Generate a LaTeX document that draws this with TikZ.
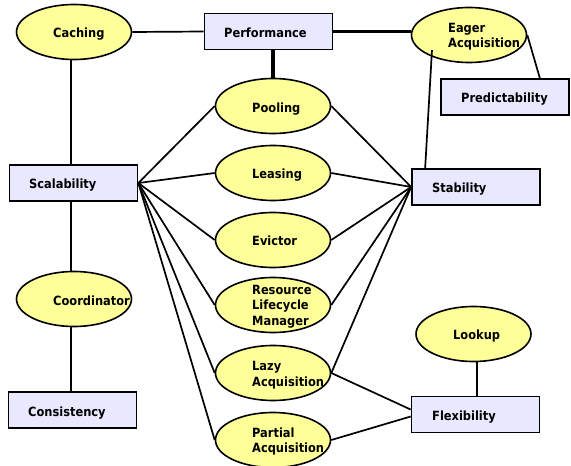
\documentclass[tikz,border=0pt]{standalone}
\usepackage{fontspec}
\setmainfont{DejaVu Sans Condensed}
\usetikzlibrary{shapes.geometric,calc}
\definecolor{bubble}{RGB}{255,255,153}
\definecolor{boxfill}{RGB}{232,232,255}
\begin{document}
\begin{tikzpicture}[x=1pt,y=-1pt,
  quality/.style={rectangle, draw=black, line width=1.7pt, fill=boxfill,
                  minimum width=128pt, minimum height=36pt, inner sep=0pt},
  pattern/.style={ellipse, draw=black, line width=1.6pt, fill=bubble,
                  minimum width=115pt, minimum height=55pt, inner sep=0pt},
  lbl/.style={anchor=base west, inner sep=0pt, align=left,
              font=\fontsize{12.7}{15.5}\selectfont\bfseries},
  link/.style={line width=1.7pt},
  strong/.style={line width=3.2pt}]
  % canvas
  \fill[white] (0,0) rectangle (571,466);
  \useasboundingbox (0,0) rectangle (571,466);

  % qualities
  \node[quality] (perf) at (268.5,31.5) {};
  \node[quality] (pred) at (505,97) {};
  \node[quality] (scal) at (73.5,183) {};
  \node[quality] (stab) at (476,187) {};
  \node[quality] (cons) at (72.5,410) {};
  \node[quality] (flex) at (475.5,414.5) {};

  % patterns
  \node[pattern] (cach)  at (74,32) {};
  \node[pattern] (pool)  at (273,106) {};
  \node[pattern] (eager) at (469,35) {};
  \node[pattern] (leas)  at (273,173) {};
  \node[pattern] (evic)  at (273,240) {};
  \node[pattern] (rlm)   at (273,305) {};
  \node[pattern] (lazy)  at (273,373) {};
  \node[pattern] (part)  at (273,440) {};
  \node[pattern] (coord) at (74,299) {};
  \node[pattern] (look)  at (473.5,334) {};

  % labels (multi-line labels sit on the baseline of their last line)
  \node[lbl] (t-perf)  at (224,37.5)  {Performance};
  \node[lbl] (t-pred)  at (461,102)   {Predictability};
  \node[lbl] (t-scal)  at (29,188.3)  {Scalability};
  \node[lbl] (t-stab)  at (432,192.3) {Stability};
  \node[lbl] (t-cons)  at (28,416)    {Consistency};
  \node[lbl] (t-flex)  at (432,420)   {Flexibility};
  \node[lbl] (t-cach)  at (53,37.5)   {Caching};
  \node[lbl] (t-pool)  at (252,112.5) {Pooling};
  \node[lbl] (t-eager) at (448,47.7)  {Eager\\Acquisition};
  \node[lbl] (t-leas)  at (252,178.3) {Leasing};
  \node[lbl] (t-evic)  at (252,245.7) {Evictor};
  \node[lbl] (t-rlm)   at (252,325)   {Resource\\Lifecycle\\Manager};
  \node[lbl] (t-lazy)  at (252,386)   {Lazy\\Acquisition};
  \node[lbl] (t-part)  at (252,452.7) {Partial\\Acquisition};
  \node[lbl] (t-coord) at (53,305)    {Coordinator};
  \node[lbl] (t-look)  at (453,339.3) {Lookup};

  % left-hand spine shares one x position
  \coordinate (spine) at ([xshift=-3pt]cach.south);
  \coordinate (lkdrop) at ([xshift=3.5pt]look.south);

  % connectors
  \draw[link] (cach.east) -- (perf.west);
  \draw[strong] (perf.east) -- (perf.east -| eager.west);
  \draw[strong] (pool.north) -- (pool.north |- perf.south);
  \draw[link] (spine) -- (spine |- scal.north);
  \draw[link] (spine |- scal.south) -- (spine |- coord.north);
  \draw[link] (spine |- coord.south) -- (spine |- cons.north);
  \draw[link] (lkdrop) -- (lkdrop |- flex.north);
  \draw[link] (eager.east) -- ($(pred.north east)+(-30,0)$);
  \draw[link] ($(eager.center)+(-37,15)$) -- ($(stab.north west)+(14,0)$);

  \foreach \p in {pool,leas,evic,rlm,lazy,part}
    \draw[link] (scal.east) -- (\p.west);
  \foreach \p in {pool,leas,evic,rlm,lazy}
    \draw[link] (stab.west) -- (\p.east);

  \draw[link] (lazy.east) -- ($(flex.west)+(0,-5)$);
  \draw[link] (part.east) -- ($(flex.west)+(0,2)$);
\end{tikzpicture}
\end{document}
